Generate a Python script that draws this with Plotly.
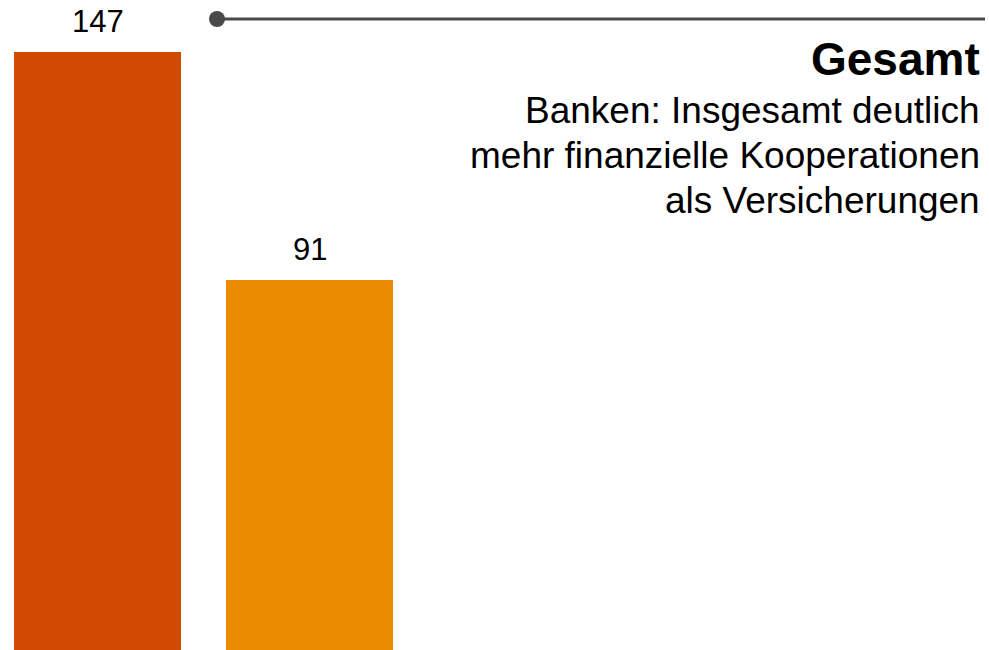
import plotly.graph_objects as go

categories = ["Banken", "Versicherungen"]
values = [147, 91]
colors = ["#D04A02", "#EB8C00"]
title_text = "Gesamt"
subtitle_lines = ["Banken: Insgesamt deutlich", "mehr finanzielle Kooperationen", "als Versicherungen"]

W, H = 989, 650
FONT = "Liberation Sans, Arial, sans-serif"

xpos = list(range(len(categories)))

fig = go.Figure()
fig.add_trace(go.Bar(
    x=xpos, y=values, width=0.788,
    marker=dict(color=colors, line=dict(width=0)),
    hoverinfo="skip", showlegend=False,
))

annotations = []
for xi, v in zip(xpos, values):
    annotations.append(dict(
        x=xi, y=v, xref="x", yref="y", text=str(v), showarrow=False,
        yanchor="bottom", xanchor="center", yshift=11,
        font=dict(family=FONT, size=31, color="#000000"),
    ))

RIGHT = 982
TITLE_SIZE = 46
SUB_SIZE = 37


def top_for_baseline(baseline, size):
    return baseline - 1 - 0.905 * size


annotations.append(dict(
    x=RIGHT / W, y=1 - top_for_baseline(74, TITLE_SIZE) / H, xref="paper", yref="paper",
    text="<b>" + title_text + "</b>", showarrow=False,
    xanchor="right", yanchor="top", align="right",
    font=dict(family=FONT, size=TITLE_SIZE, color="#000000"),
))
for i, line in enumerate(subtitle_lines):
    baseline = 122 + 45 * i
    annotations.append(dict(
        x=RIGHT / W, y=1 - top_for_baseline(baseline, SUB_SIZE) / H, xref="paper", yref="paper",
        text=line, showarrow=False,
        xanchor="right", yanchor="top", align="right",
        font=dict(family=FONT, size=SUB_SIZE, color="#000000"),
    ))

shapes = [
    dict(type="line", xref="paper", yref="paper",
         x0=217 / W, x1=985 / W, y0=1 - 19 / H, y1=1 - 19 / H,
         line=dict(color="#4a4a4a", width=3)),
    dict(type="circle", xref="paper", yref="paper",
         x0=209 / W, x1=225 / W, y0=1 - 27 / H, y1=1 - 11 / H,
         fillcolor="#4a4a4a", line=dict(width=0)),
]

fig.update_layout(
    width=W, height=H,
    margin=dict(l=0, r=0, t=0, b=0),
    paper_bgcolor="white", plot_bgcolor="white",
    xaxis=dict(range=[-0.46, 4.205], visible=False, fixedrange=True),
    yaxis=dict(range=[0, 159.8], visible=False, fixedrange=True),
    annotations=annotations, shapes=shapes,
    bargap=0,
)

fig.write_html(
    "out.html",
    config={"displayModeBar": False},
    post_script="document.body.style.margin='0';document.body.style.overflow='hidden';",
)
